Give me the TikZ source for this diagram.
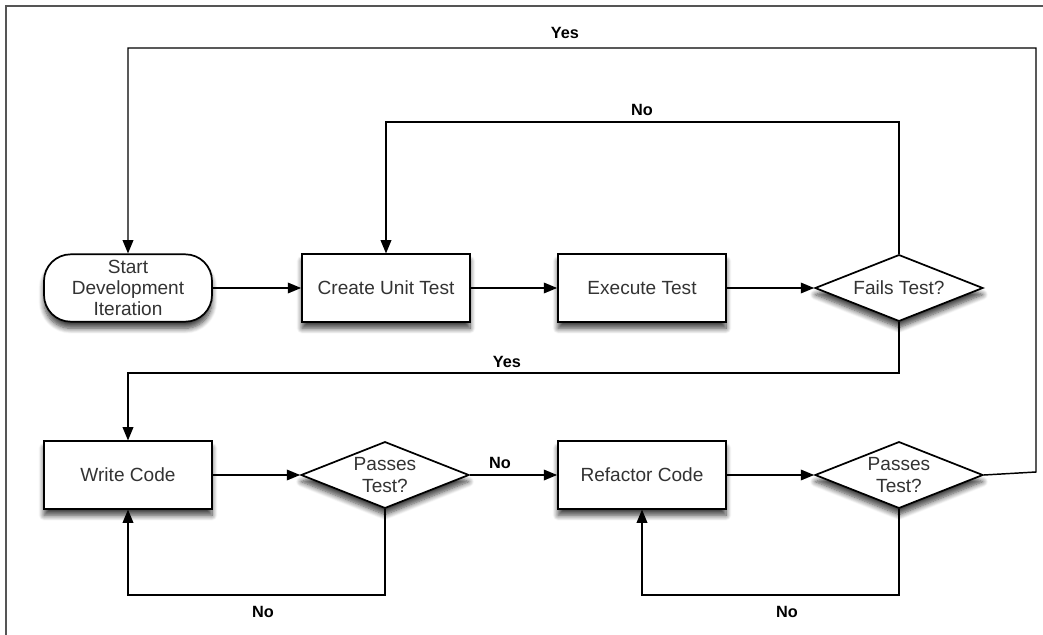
\documentclass[tikz,border=0pt]{standalone}
\usepackage{fontspec}
\setmainfont{Liberation Sans}
\usetikzlibrary{arrows.meta,shapes.geometric,shadows.blur}
\definecolor{txt}{HTML}{333333}
\definecolor{framec}{HTML}{555555}
\begin{document}
\begin{tikzpicture}[x=0.75pt,y=-0.75pt,
 base/.style={draw=black, line width=1.3pt, fill=white, text=txt, font=\fontsize{14.3}{16}\selectfont, align=center, inner sep=0pt, blur shadow={shadow xshift=0pt, shadow yshift=-5pt, shadow blur radius=4pt, shadow opacity=75, shadow blur steps=8}},
 procbox/.style={base, rectangle, minimum width=126pt, minimum height=50.5pt},
 startbox/.style={base, rectangle, rounded corners=20pt, minimum width=126pt, minimum height=50.5pt},
 decbox/.style={base, diamond, aspect=2.5, minimum width=126pt, minimum height=50pt},
 flow/.style={line width=1.1pt, -{Triangle[length=10pt,width=8pt]}},
 lbl/.style={font=\bfseries\fontsize{12.2}{14}\selectfont, text=black, inner sep=1pt}]
\useasboundingbox (0,0) rectangle (1043,635);
% frame
\coordinate (fbl) at (6,635);
\coordinate (ftl) at (6,6);
\coordinate (ftr) at (1043,6);
\draw[framec, line width=1.2pt] (fbl) -- (ftl) -- (ftr);
% nodes
\node[startbox] (start) at (128,288) {Start\\Development\\Iteration};
\node[procbox] (create) at (386,288) {Create Unit Test};
\node[procbox] (exec) at (642,288) {Execute Test};
\node[decbox] (fails) at (899,288) {Fails Test?};
\node[procbox] (write) at (128,475) {Write Code};
\node[decbox] (pass1) at (385,475) {Passes\\Test?};
\node[procbox] (refac) at (642,475) {Refactor Code};
\node[decbox] (pass2) at (899,475) {Passes\\Test?};
% bend points
\coordinate (noTop) at (899,122);
\coordinate (yesMid) at (899,373);
\coordinate (noL) at (385,595);
\coordinate (noR) at (899,595);
\coordinate (yesR1) at (1036,472);
\coordinate (yesR2) at (1036,48);
% connectors
\draw[flow] (start) -- (create);
\draw[flow] (create) -- (exec);
\draw[flow] (exec) -- (fails);
\draw[flow] (fails.north) -- (noTop) -| (create.north);
\draw[flow] (fails.south) -- (yesMid) -| (write.north);
\draw[flow] (write) -- (pass1);
\draw[flow] (pass1) -- (refac);
\draw[flow] (refac) -- (pass2);
\draw[flow] (pass1.south) -- (noL) -| (write.south);
\draw[flow] (pass2.south) -- (noR) -| (refac.south);
\draw[flow] (pass2.east) -- (yesR1) -- (yesR2) -| (start.north);
% labels
\node[lbl] (lYesTop) at (565,33) {Yes};
\node[lbl] (lNoTop) at (642,110) {No};
\node[lbl] (lYesMid) at (507,362) {Yes};
\node[lbl] (lNoMid) at (500,463) {No};
\node[lbl] (lNoBL) at (263,612) {No};
\node[lbl] (lNoBR) at (787,612) {No};
\end{tikzpicture}
\end{document}
